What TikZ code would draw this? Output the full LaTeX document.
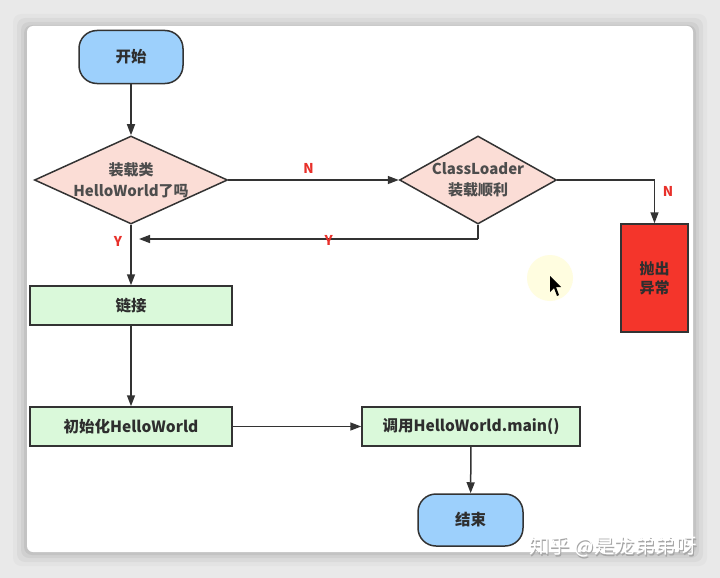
\documentclass[tikz,border=0pt]{standalone}
\usepackage{fontspec}
\setmainfont{Noto Sans CJK SC}
\usetikzlibrary{arrows.meta,shapes.geometric,positioning}
\definecolor{bgray}{HTML}{E9E9E9}
\definecolor{lineC}{HTML}{333333}
\definecolor{txtC}{HTML}{2E2E2E}
\definecolor{blueF}{HTML}{9DD0FC}
\definecolor{pinkF}{HTML}{FBDDD6}
\definecolor{greenF}{HTML}{DAF9DA}
\definecolor{redF}{HTML}{F4352B}
\definecolor{labC}{HTML}{E8302A}
\tikzset{
  base/.style={draw=lineC,line width=1.5pt,text=txtC,font=\bfseries\fontsize{15.5}{18}\selectfont,align=center,inner sep=0pt},
  term/.style={base,fill=blueF,rounded corners=18pt},
  dec/.style={base,diamond,fill=pinkF,text=txtC!85,font=\bfseries\fontsize{15}{21}\selectfont},
  proc/.style={base,rectangle,fill=greenF},
  errbox/.style={base,rectangle,fill=redF,font=\bfseries\fontsize{15}{19}\selectfont},
  conn/.style={draw=lineC,line width=1.5pt,-{Triangle[length=11pt,width=8pt]}},
  plain/.style={draw=lineC,line width=1.5pt},
  lab/.style={text=labC,font=\bfseries\fontsize{13.5}{15}\selectfont,inner sep=0pt}
}
\begin{document}
\begin{tikzpicture}[x=1pt,y=-1pt]
\useasboundingbox (0,0) rectangle (720,578);
\fill[bgray] (0,0) rectangle (720,578);
% shadow
\foreach \i/\o in {14/0.025,10/0.035,6/0.045,3/0.06}{
  \fill[black,opacity=\o,rounded corners=8pt] (27-\i,28-\i) rectangle (693+\i,552+\i);
}
\fill[white,rounded corners=6pt] (27,26) rectangle (693,552);
% cursor highlight
\fill[yellow!12] (550,278) circle (23);
\fill[black] (550,276) -- (550,292) -- (554,288) -- (557,296) -- (559,295) -- (556,287) -- (561,287) -- cycle;

% nodes
\node[term,minimum width=104pt,minimum height=53pt] (start) at (131,57) {开始};
\node[dec,shape aspect=2.2,minimum width=187pt,minimum height=88pt] (d1) at (131,180) {装载类\\HelloWorld了吗};
\node[dec,shape aspect=1.8,minimum width=157pt,minimum height=88pt] (d2) at (478,180) {ClassLoader\\装载顺利};
\node[errbox,minimum width=67pt,minimum height=108pt] (err) at (654.5,278) {抛出\\异常};
\node[proc,minimum width=202pt,minimum height=39pt] (link) at (131,305.5) {链接};
\node[proc,minimum width=202pt,minimum height=39pt] (init) at (131,426.5) {初始化HelloWorld};
\node[proc,minimum width=218pt,minimum height=39pt] (call) at (471,426.5) {调用HelloWorld.main()};
\node[term,minimum width=105pt,minimum height=52pt] (end) at (470.5,520) {结束};

\coordinate (c1) at (478,239);
\coordinate (c2) at (131,239);
\coordinate (c3) at (654.5,180);

% connectors
\draw[conn] (start) -- (d1);
\draw[conn] (d1) -- node[lab,above=6pt,pos=0.47] (ln1) {N} (d2);
\draw[conn] (d1) -- (link);
\draw[plain] (d2.south) -- (c1);
\draw[conn] (c1) -- node[lab,pos=0.44,yshift=-1pt] (ly2) {Y} ([xshift=8pt]c2);
\draw[conn] (d2.east) -- (c3) -- (err.north);
\node[lab] (ln2) at (668,191) {N};
\node[lab] (ly1) at (118,241) {Y};
\draw[conn] (link) -- (init);
\draw[conn] (init) -- (call);
\draw[conn] (call) -- (end);

% watermark
\node[text=black!35,font=\fontsize{20.5}{24}\selectfont,inner sep=0pt] (wm0) at (614,548.5) {知乎 @是龙弟弟呀};
\node[text=white,font=\fontsize{20.5}{24}\selectfont,inner sep=0pt] (wm) at (613,547) {知乎 @是龙弟弟呀};
\end{tikzpicture}
\end{document}
